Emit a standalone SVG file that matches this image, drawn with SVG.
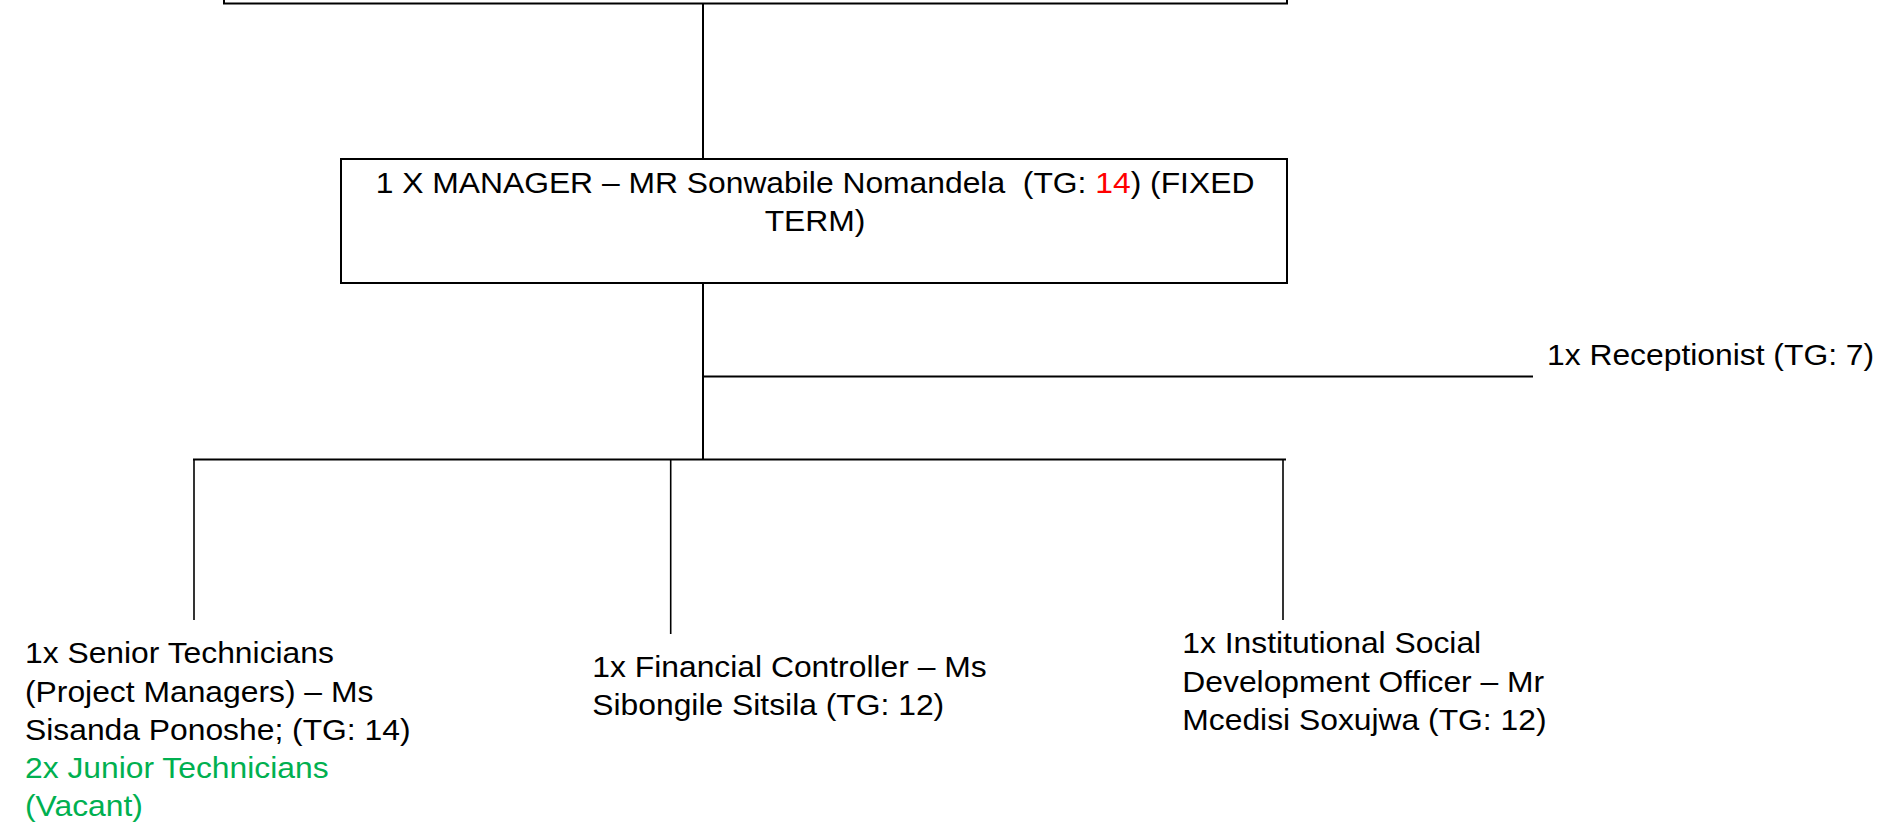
<svg xmlns="http://www.w3.org/2000/svg" width="1890" height="826" viewBox="0 0 1890 826">
<style>
  .box { fill: #ffffff; stroke: #000000; stroke-width: 2; }
  .ln { stroke: #000000; stroke-width: 2; fill: none; }
  .ln2 { stroke: #000000; stroke-width: 1.6; fill: none; }
  .t { font-family: "Liberation Sans", Arial, sans-serif; font-size: 30.4px; fill: #000000; white-space: pre; }
  .red { fill: #ff0000; }
  .green { fill: #00b050; }
</style>
<rect x="0" y="0" width="1890" height="826" fill="#ffffff"/>
<g id="connectors">
  <line class="ln" x1="703" y1="3.5" x2="703" y2="159"/>
  <line class="ln" x1="703" y1="283" x2="703" y2="459.5"/>
  <line class="ln" x1="703" y1="376.5" x2="1533" y2="376.5"/>
  <line class="ln" x1="193" y1="459.5" x2="1286" y2="459.5"/>
  <line class="ln2" x1="194" y1="459.5" x2="194" y2="620"/>
  <line class="ln2" x1="670.7" y1="459.5" x2="670.7" y2="634"/>
  <line class="ln2" x1="1283" y1="459.5" x2="1283" y2="620"/>
</g>
<g id="node-top">
  <rect class="box" x="224" y="-40" width="1063" height="43.5"/>
</g>
<g id="node-manager">
  <rect class="box" x="341" y="159" width="946" height="124"/>
  <text class="t" text-anchor="middle" transform="matrix(1.047 0 0 1 815 192.7)"><tspan x="0">1 X MANAGER – MR Sonwabile Nomandela  (TG: <tspan class="red">14</tspan>) (FIXED</tspan><tspan x="0" dy="38.3">TERM)</tspan></text>
</g>
<g id="node-receptionist">
  <text class="t" transform="matrix(1.047 0 0 1 1547 364.5)">1x Receptionist (TG: 7)</text>
</g>
<g id="node-senior-technicians">
  <text class="t" transform="matrix(1.047 0 0 1 25 663.3)"><tspan x="0">1x Senior Technicians</tspan><tspan x="0" dy="38.3">(Project Managers) – Ms</tspan><tspan x="0" dy="38.3">Sisanda Ponoshe; (TG: 14)</tspan><tspan x="0" dy="38.3" class="green">2x Junior Technicians</tspan><tspan x="0" dy="38.3" class="green">(Vacant)</tspan></text>
</g>
<g id="node-financial-controller">
  <text class="t" transform="matrix(1.047 0 0 1 592.3 676.7)"><tspan x="0">1x Financial Controller – Ms</tspan><tspan x="0" dy="38.3">Sibongile Sitsila (TG: 12)</tspan></text>
</g>
<g id="node-isdo">
  <text class="t" transform="matrix(1.047 0 0 1 1182.3 653.3)"><tspan x="0">1x Institutional Social</tspan><tspan x="0" dy="38.3">Development Officer – Mr</tspan><tspan x="0" dy="38.3">Mcedisi Soxujwa (TG: 12)</tspan></text>
</g>
</svg>
